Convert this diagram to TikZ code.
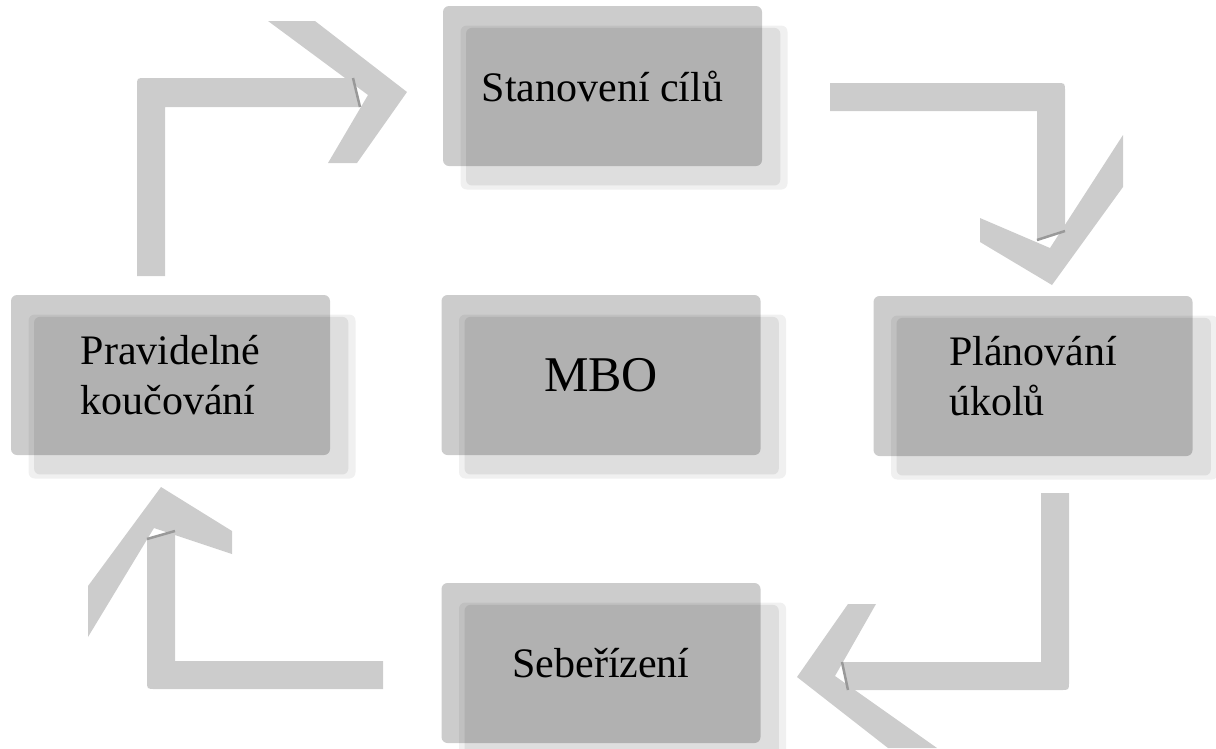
\documentclass[tikz,border=0pt]{standalone}
\usepackage{fontspec}
\setmainfont{Liberation Serif}
\usetikzlibrary{shadows}
\definecolor{arrowgray}{HTML}{CCCCCC}
\definecolor{shadowgray}{HTML}{DEDEDE}
\definecolor{shadowsoft}{HTML}{F0F0F0}
\definecolor{seamgray}{HTML}{999999}

\begin{document}
\begin{tikzpicture}[x=1pt, y=-1pt,
    stage/.style={rounded corners=6pt, fill=black, fill opacity=0.2, text opacity=1,
      minimum width=319pt, minimum height=160pt, inner sep=0pt, align=left,
      font=\fontsize{42}{50}\selectfont,
      drop shadow={shadow xshift=21pt, shadow yshift=-21pt, shadow scale=1.025, fill=shadowsoft, opacity=1},
      drop shadow={shadow xshift=21pt, shadow yshift=-21pt, shadow scale=0.985, fill=shadowgray, opacity=1}},
    bentarrow/.style={fill=arrowgray},
    seam/.style={draw=seamgray, line width=2.5pt}]
    \useasboundingbox (0,0) rectangle (1216,748);
    % Arrow: coaching -> goals
    \fill[bentarrow] (137,276) -- (137,86) .. controls (137,78) .. (145,78) -- (353,78) -- (360,107) -- (165,107) -- (165,276) -- cycle;
    \fill[bentarrow] (268,21) -- (315,21) -- (407,92) -- (357,163) -- (328,163) -- (368,95) -- cycle;
    \draw[seam] (353,78) -- (360,107);
    % Arrow: goals -> planning
    \fill[bentarrow] (830,83) -- (1057,83) .. controls (1065,83) .. (1065,91) -- (1065,231) -- (1037,240) -- (1037,111) -- (830,111) -- cycle;
    \fill[bentarrow] (1123,135) -- (1123,187) -- (1052,285) -- (980,242) -- (980,218) -- (1050,248) -- cycle;
    \draw[seam] (1037,240) -- (1065,231);
    % Arrow: planning -> self-management
    \fill[bentarrow] (1041,493) -- (1069,493) -- (1069,682) .. controls (1069,690) .. (1061,690) -- (848,690) -- (842,662) -- (1041,662) -- cycle;
    \fill[bentarrow] (848,604) -- (876,604) -- (835,676) -- (937,748) -- (888,748) -- (797,677) -- cycle;
    \draw[seam] (842,662) -- (848,690);
    % Arrow: self-management -> coaching
    \fill[bentarrow] (383,661) -- (383,689) -- (155,689) .. controls (147,689) .. (147,681) -- (147,539) -- (175,531) -- (175,661) -- cycle;
    \fill[bentarrow] (161,487) -- (232,531) -- (232,554) -- (154,528) -- (88,637) -- (88,586) -- cycle;
    \draw[seam] (147,539) -- (175,531);
    % Stages
    \node[stage] (goals) at (602.5,86) {Stanovení cílů};
    \node[stage] (coaching) at (170.5,375) {Pravidelné\\koučování};
    \node[stage, font=\fontsize{50}{60}\selectfont] (mbo) at (601,375) {MBO};
    \node[stage] (planning) at (1033,376) {Plánování\\úkolů};
    \node[stage] (selfmgmt) at (601,663) {Sebeřízení};
\end{tikzpicture}
\end{document}
